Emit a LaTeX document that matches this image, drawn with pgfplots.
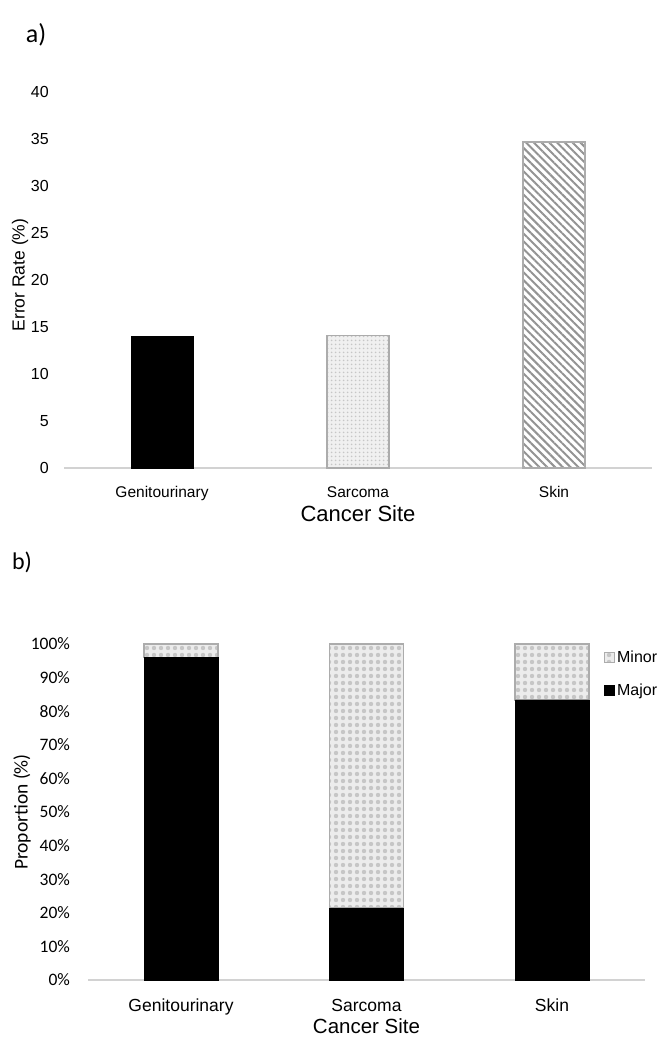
\documentclass[border=0pt]{standalone}
\usepackage{fontspec}
\setmainfont{Liberation Sans}
\newfontfamily\carlito{Carlito}
\usepackage{pgfplots}
\pgfplotsset{compat=1.18}
\usetikzlibrary{patterns,patterns.meta}

\begin{document}
\begin{tikzpicture}[x=1pt,y=1pt]
\useasboundingbox (0,0) rectangle (656,1040);
\node[font=\carlito\fontsize{26}{30}\selectfont] at (36,1005) {a)};
\node[font=\carlito\fontsize{24}{28}\selectfont] at (22,478) {b)};

% ---------- panel a ----------
\begin{axis}[
  at={(64pt,572pt)}, anchor=south west,
  scale only axis, width=588pt, height=376pt,
  xmin=-0.5, xmax=2.5, ymin=0, ymax=40,
  enlargelimits=false, clip=false,
  axis x line=bottom, axis y line=left,
  x axis line style={-, draw=gray!35, line width=1.2pt},
  y axis line style={draw=none},
  xtick={0,1,2}, xticklabels={Genitourinary,Sarcoma,Skin},
  ytick={0,5,...,40},
  tick style={draw=none},
  /pgf/number format/assume math mode=true,
  xticklabel style={font=\fontsize{15.5}{18}\selectfont, anchor=base, yshift=-27pt},
  yticklabel style={font=\fontsize{16}{19}\selectfont, anchor=east, inner sep=0pt, xshift=-13pt},
  xlabel={Cancer Site},
  xlabel style={font=\fontsize{22}{26}\selectfont, at={(axis description cs:0.5,0)}, anchor=base, yshift=-54pt},
  ylabel={Error Rate (\%)},
  ylabel style={font=\fontsize{17.5}{21}\selectfont, at={(axis description cs:-0.0748,0.513)}, anchor=center},
]
\addplot[ybar, bar width=62pt, bar shift=0pt, fill=black, draw=black] coordinates {(0,14.0)};
\addplot[ybar, bar width=62pt, bar shift=0pt, fill=gray!12, draw=gray!65, line width=1.5pt,
  postaction={pattern={Dots[distance=4pt, radius=1.1pt]}, pattern color=gray!45}] coordinates {(1,14.1)};
\addplot[ybar, bar width=62pt, bar shift=0pt, fill=white, draw=gray!65, line width=1.5pt,
  postaction={pattern={Lines[angle=-45, distance=5.5pt, line width=2pt]}, pattern color=gray!85}] coordinates {(2,34.7)};
\end{axis}

% ---------- panel b ----------
\begin{axis}[
  at={(88.25pt,60pt)}, anchor=south west,
  scale only axis, width=556.5pt, height=336pt,
  xmin=-0.5, xmax=2.5, ymin=0, ymax=100,
  enlargelimits=false, clip=false,
  ybar stacked, bar width=74pt,
  axis x line=bottom, axis y line=left,
  x axis line style={-, draw=gray!35, line width=1.2pt},
  y axis line style={draw=none},
  xtick={0,1,2}, xticklabels={Genitourinary,Sarcoma,Skin},
  ytick={0,10,...,100},
  yticklabels={0\%,10\%,20\%,30\%,40\%,50\%,60\%,70\%,80\%,90\%,100\%},
  tick style={draw=none},
  xticklabel style={font=\fontsize{17.5}{21}\selectfont, anchor=base, yshift=-29pt},
  yticklabel style={font=\carlito\fontsize{17.5}{21}\selectfont, anchor=east, inner sep=0pt, xshift=-16pt},
  xlabel={Cancer Site},
  xlabel style={font=\fontsize{20.5}{24}\selectfont, at={(axis description cs:0.5,0)}, anchor=base, yshift=-54pt},
  ylabel={Proportion (\%)},
  ylabel style={font=\carlito\fontsize{19.5}{23}\selectfont, at={(axis description cs:-0.119,0.5)}, anchor=center},
  legend style={at={(axis description cs:0.927,0.985)}, anchor=north west, draw=none, fill=none,
    font=\fontsize{16}{19}\selectfont, row sep=16pt, inner sep=0pt},
  legend cell align=left,
  reverse legend,
  legend image code/.code={\draw[#1, line width=0.8pt] (0pt,-5pt) rectangle (10pt,5pt);},
]
\addplot[fill=black, draw=black] coordinates {(0,96.0) (1,21.4) (2,83.4)};
\addlegendentry{Major}
\addplot[fill=gray!15, draw=gray!65, line width=1.5pt,
  postaction={pattern={Dots[distance=7pt, radius=2.2pt]}, pattern color=gray!45}] coordinates {(0,4.0) (1,78.6) (2,16.6)};
\addlegendentry{Minor}
\end{axis}
\end{tikzpicture}
\end{document}
